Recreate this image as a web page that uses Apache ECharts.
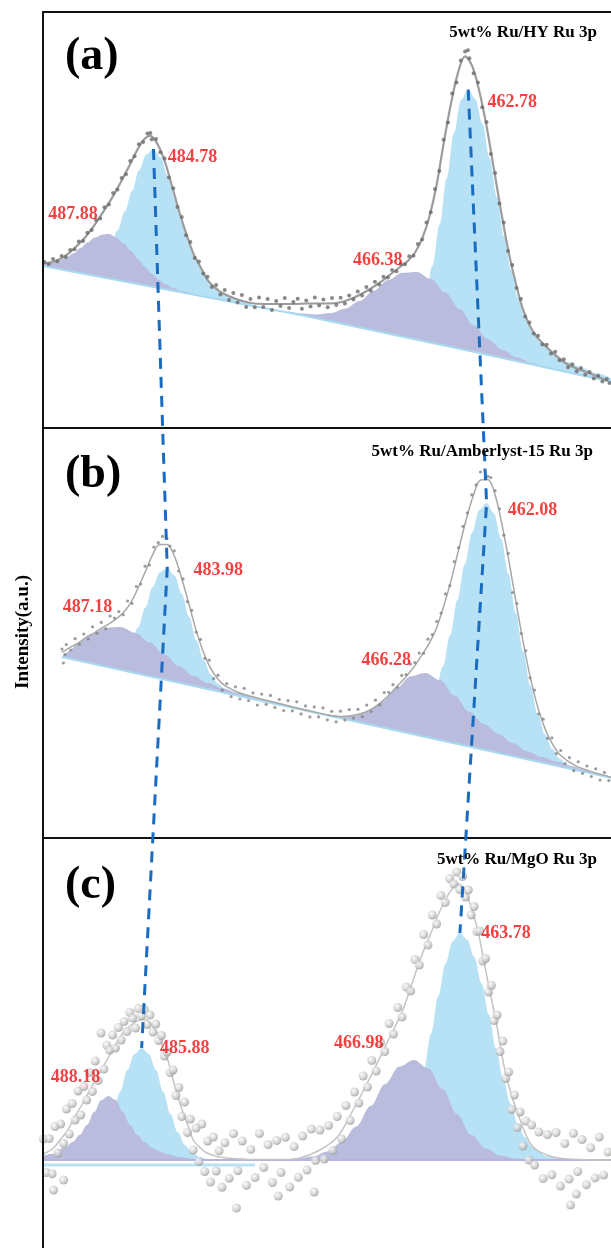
<!DOCTYPE html>
<html>

<head>
	<meta charset="utf-8" />
	<script src="https://cdn.jsdelivr.net/npm/echarts@6/dist/echarts.min.js"></script>
</head>

<title>
	Ru 3p XPS
</title>

<body style="margin: 0; background-color: #ffffff">
	<div id="main" style="width: 611px; height: 1248px;"></div>
</body>

<script type="text/javascript">
	// binding energy (eV) ranges shown in each panel
	var xRangeA = [452.8, 492.5];
	var xRangeB = [453.55, 492.5];
	var xRangeC = [453.29, 492.73];

	var titles = ['5wt% Ru/HY Ru 3p', '5wt% Ru/Amberlyst-15 Ru 3p', '5wt% Ru/MgO Ru 3p'];
	var tags = ['(a)', '(b)', '(c)'];

	// fitted peak centres: [Ru 3p1/2 oxide, Ru 3p1/2, Ru 3p3/2 oxide, Ru 3p3/2]
	var peaksA = [487.88, 484.78, 466.38, 462.78];
	var peaksB = [487.18, 483.98, 466.28, 462.08];
	var peaksC = [488.18, 485.88, 466.98, 463.78];

	// ---------- panel (a) 5wt% Ru/HY ----------
	var baseA = [[492.5, 1620], [474.5, 1130], [462, 750], [452.8, 462]];
	var blueLA = [[491.78, 1605], [490.78, 1598], [489.78, 1606], [489.28, 1622], [488.78, 1659], [488.28, 1725], [487.78, 1832], [487.28, 1978], [486.78, 2165], [486.28, 2371], [485.78, 2577], [485.28, 2734], [484.78, 2790], [484.28, 2707], [483.78, 2523], [483.28, 2289], [482.78, 2056], [482.28, 1842], [481.78, 1669], [481.28, 1535], [480.78, 1441], [480.28, 1378], [479.78, 1334], [478.78, 1272], [477.78, 1225]];
	var purpLA = [[492.5, 1645], [491.88, 1653], [491.38, 1672], [490.88, 1704], [490.38, 1747], [489.88, 1801], [489.38, 1855], [488.88, 1904], [488.38, 1933], [487.88, 1940], [487.38, 1906], [486.88, 1849], [486.38, 1774], [485.88, 1692], [485.38, 1611], [484.88, 1541], [484.38, 1481], [483.88, 1436], [483.38, 1400], [482.88, 1373], [481.88, 1335]];
	var blueRA = [[468.78, 969], [467.78, 968], [466.78, 1017], [466.28, 1122], [465.78, 1316], [465.28, 1621], [464.78, 2036], [464.28, 2500], [463.78, 2945], [463.28, 3279], [462.78, 3384], [462.28, 3289], [461.78, 3043], [461.28, 2698], [460.78, 2312], [460.28, 1917], [459.78, 1582], [459.28, 1296], [458.78, 1091], [458.28, 956], [457.78, 860], [456.78, 739], [455.78, 658], [454.78, 598], [453.78, 547], [452.78, 496]];
	var purpRA = [[475.38, 1167], [474.38, 1146], [473.38, 1136], [472.38, 1150], [471.38, 1193], [470.38, 1270], [469.38, 1373], [468.38, 1479], [467.38, 1552], [466.38, 1560], [465.38, 1490], [464.38, 1355], [463.38, 1189], [462.38, 1024], [461.38, 885], [460.38, 780], [459.38, 705], [458.38, 653], [457.38, 613], [456.38, 580], [455.38, 550], [454.38, 520], [453.38, 490], [452.78, 470]];
	var fitA = [[492.5, 1647], [492, 1655], [491.5, 1677], [491, 1717], [490.5, 1771], [490, 1840], [489.5, 1915], [489, 2008], [488.5, 2116], [488, 2227], [487.5, 2344], [487, 2475], [486.5, 2612], [486, 2756], [485.5, 2875], [485, 2921], [484.5, 2839], [484, 2671], [483.5, 2428], [483, 2175], [482.5, 1948], [482, 1749], [481.5, 1611], [481, 1482], [480.5, 1406], [480, 1353], [479, 1290], [478, 1250], [477, 1240], [476, 1240], [475, 1240], [474, 1245], [473, 1245], [472, 1250], [471, 1290], [470, 1360], [469, 1450], [468, 1560], [467.5, 1615], [467, 1670], [466.5, 1755], [466, 1894], [465.5, 2110], [465, 2423], [464.5, 2843], [464, 3232], [463.5, 3549], [463, 3716], [462.5, 3619], [462, 3365], [461.5, 3020], [461, 2604], [460.5, 2181], [460, 1791], [459.5, 1474], [459, 1206], [458.5, 1030], [458, 912], [457, 769], [456, 650], [455, 585], [454, 530], [453, 470]];
	var ptsA = [[492.4, 1660], [492.1, 1640], [491.8, 1690], [491.5, 1667], [491.2, 1720], [490.9, 1711], [490.6, 1780], [490.3, 1788], [490.0, 1865], [489.7, 1870], [489.4, 1953], [489.1, 1980], [488.8, 2080], [488.5, 2096], [488.2, 2207], [487.9, 2235], [487.6, 2350], [487.3, 2386], [487.0, 2500], [486.7, 2537], [486.4, 2671], [486.1, 2717], [485.8, 2838], [485.5, 2860], [485.2, 2945], [485.0, 2951], [484.9, 2885], [484.6, 2890], [484.3, 2757], [484.0, 2696], [483.7, 2505], [483.4, 2397], [483.1, 2211], [482.8, 2109], [482.5, 1928], [482.2, 1859], [481.9, 1701], [481.6, 1664], [481.3, 1545], [481.0, 1512], [480.7, 1411], [480.4, 1430], [480.1, 1334], [479.8, 1380], [479.5, 1280], [479.2, 1350], [478.9, 1255], [478.6, 1330], [478.3, 1210], [478.0, 1290], [477.7, 1207], [477.4, 1304], [477.1, 1211], [476.8, 1290], [476.5, 1180], [476.2, 1270], [475.9, 1220], [475.6, 1300], [475.3, 1200], [475.0, 1260], [474.7, 1292], [474.4, 1193], [474.1, 1275], [473.8, 1215], [473.5, 1305], [473.2, 1225], [472.9, 1285], [472.6, 1207], [472.3, 1299], [472.0, 1230], [471.7, 1302], [471.4, 1244], [471.1, 1326], [470.8, 1284], [470.5, 1365], [470.2, 1326], [469.9, 1409], [469.6, 1376], [469.3, 1463], [469.0, 1435], [468.7, 1513], [468.4, 1506], [468.1, 1579], [467.8, 1567], [467.5, 1640], [467.2, 1638], [466.9, 1717], [466.6, 1723], [466.3, 1840], [466.0, 1884], [465.7, 2054], [465.4, 2158], [465.1, 2390], [464.8, 2571], [464.5, 2883], [464.2, 3056], [463.9, 3345], [463.6, 3456], [463.3, 3676], [463.0, 3766], [462.8, 3777], [462.7, 3698], [462.4, 3548], [462.1, 3456], [461.8, 3207], [461.5, 3060], [461.2, 2740], [460.9, 2550], [460.6, 2246], [460.3, 2055], [460.0, 1771], [459.7, 1631], [459.4, 1400], [459.1, 1290], [458.8, 1116], [458.5, 1055], [458.2, 944], [457.9, 923], [457.6, 835], [457.3, 832], [457.0, 744], [456.7, 763], [456.4, 678], [456.1, 687], [455.8, 607], [455.5, 638], [455.2, 568], [454.9, 600], [454.6, 533], [454.3, 561], [454.0, 495], [453.7, 522], [453.4, 464], [453.1, 491], [452.9, 450]];

	// ---------- panel (b) 5wt% Ru/Amberlyst-15 ----------
	var baseB = [[491.2, 1810], [453.55, 602]];
	var blueLB = [[488.98, 1743], [488.48, 1735], [487.98, 1739], [487.48, 1764], [486.98, 1826], [486.48, 1938], [485.98, 2105], [485.48, 2306], [484.98, 2507], [484.48, 2657], [483.98, 2699], [483.48, 2625], [482.98, 2443], [482.48, 2210], [481.98, 1976], [481.48, 1777], [480.98, 1633], [480.48, 1539], [479.98, 1482], [479.48, 1446], [478.98, 1422]];
	var purpLB = [[491.2, 1812], [490.68, 1870], [490.18, 1940], [489.18, 2035], [488.18, 2103], [487.18, 2110], [486.18, 2053], [485.18, 1955], [484.18, 1836], [483.18, 1719], [482.18, 1621], [481.18, 1549], [480.18, 1497], [479.18, 1453], [477.18, 1375], [475.18, 1304], [473.18, 1237], [471.18, 1170]];
	var blueRB = [[469.08, 1104], [468.08, 1084], [467.58, 1090], [467.08, 1116], [466.58, 1180], [466.08, 1294], [465.58, 1468], [465.08, 1715], [464.58, 2028], [464.08, 2381], [463.58, 2735], [463.08, 3053], [462.58, 3280], [462.08, 3350], [461.58, 3248], [461.08, 2989], [460.58, 2639], [460.08, 2253], [459.58, 1868], [459.08, 1523], [458.58, 1243], [458.08, 1037], [457.58, 891], [457.08, 795], [456.58, 737], [456.08, 699], [455.08, 654]];
	var purpRB = [[473.28, 1239], [472.28, 1218], [471.28, 1219], [470.28, 1260], [469.28, 1357], [468.28, 1497], [467.28, 1618], [466.28, 1650], [465.28, 1579], [464.28, 1426], [463.28, 1264], [462.28, 1142], [461.28, 1040], [460.28, 948], [459.28, 866], [458.28, 809], [457.28, 762], [456.28, 720], [455.28, 678], [454.28, 636], [453.28, 598]];
	var fitB = [[491.2, 1860], [491, 1874], [490.5, 1918], [490, 1957], [489.5, 2012], [489, 2049], [488.5, 2096], [488, 2139], [487.5, 2189], [487, 2252], [486.5, 2348], [486, 2494], [485.5, 2658], [485, 2827], [484.5, 2936], [484, 2936], [483.5, 2822], [483, 2603], [482.5, 2342], [482, 2079], [481.5, 1858], [481, 1696], [480.5, 1588], [480, 1522], [479, 1450], [478, 1407], [477, 1370], [476, 1334], [475, 1298], [474, 1264], [473, 1232], [472, 1216], [471, 1232], [470, 1285], [469, 1396], [468, 1549], [467.5, 1632], [467, 1724], [466.5, 1833], [466, 1952], [465.5, 2106], [465, 2330], [464.5, 2584], [464, 2883], [463.5, 3172], [463, 3421], [462.5, 3580], [462, 3586], [461.5, 3433], [461, 3115], [460.5, 2729], [460, 2305], [459.5, 1904], [459, 1551], [458.5, 1272], [458, 1066], [457.5, 923], [457, 825], [456, 723], [455, 669], [454, 626], [453.5, 606]];
	var ptsB = [[491.2, 1890], [491.1, 1750], [491.0, 1834], [490.9, 1935], [490.6, 1879], [490.3, 1993], [490.0, 1937], [489.7, 2040], [489.4, 1990], [489.1, 2112], [488.8, 2048], [488.5, 2156], [488.2, 2092], [487.9, 2219], [487.6, 2199], [487.3, 2264], [487.0, 2232], [486.7, 2370], [486.4, 2347], [486.1, 2515], [485.8, 2540], [485.5, 2718], [485.2, 2730], [484.9, 2909], [484.6, 2954], [484.3, 3016], [484.0, 2996], [483.8, 2920], [483.5, 2872], [483.2, 2670], [482.9, 2591], [482.6, 2364], [482.3, 2277], [482.0, 2059], [481.7, 1986], [481.4, 1796], [481.1, 1778], [480.8, 1593], [480.5, 1628], [480.2, 1478], [479.9, 1545], [479.6, 1413], [479.3, 1512], [479.0, 1390], [478.7, 1497], [478.4, 1374], [478.1, 1451], [477.8, 1330], [477.5, 1439], [477.2, 1337], [476.9, 1426], [476.6, 1306], [476.3, 1385], [476.0, 1274], [475.7, 1373], [475.4, 1272], [475.1, 1362], [474.8, 1241], [474.5, 1321], [474.2, 1211], [473.9, 1311], [473.6, 1211], [473.3, 1302], [473.0, 1182], [472.7, 1267], [472.4, 1162], [472.1, 1268], [471.8, 1179], [471.5, 1284], [471.2, 1199], [470.9, 1287], [470.6, 1213], [470.3, 1329], [470.0, 1265], [469.7, 1378], [469.4, 1331], [469.1, 1455], [468.8, 1457], [468.5, 1533], [468.2, 1508], [467.9, 1626], [467.6, 1635], [467.3, 1739], [467.0, 1754], [466.7, 1849], [466.4, 1847], [466.1, 1988], [465.8, 2034], [465.5, 2166], [465.2, 2250], [464.9, 2441], [464.6, 2523], [464.3, 2763], [464.0, 2903], [463.7, 3117], [463.4, 3252], [463.1, 3431], [462.8, 3531], [462.5, 3660], [462.2, 3684], [462.0, 3616], [461.8, 3605], [461.5, 3473], [461.2, 3292], [460.9, 3028], [460.6, 2846], [460.3, 2455], [460.0, 2345], [459.7, 2044], [459.4, 1874], [459.1, 1602], [458.8, 1479], [458.5, 1242], [458.2, 1188], [457.9, 997], [457.6, 1002], [457.3, 844], [457.0, 875], [456.7, 745], [456.4, 804], [456.1, 673], [455.8, 762], [455.5, 646], [455.2, 720], [454.9, 615], [454.6, 692], [454.3, 579], [454.0, 656], [453.7, 574]];

	// ---------- panel (c) 5wt% Ru/MgO ----------
	var baseC = [[492.73, 880], [453.29, 880]];
	var baseC2 = [[492.73, 830], [478, 830]];
	var blueLC = [[490.88, 884], [490.38, 892], [489.88, 912], [489.38, 953], [488.88, 1031], [488.38, 1159], [487.88, 1340], [487.38, 1560], [486.88, 1777], [486.38, 1940], [485.88, 2000], [485.38, 1940], [484.88, 1777], [484.38, 1560], [483.88, 1340], [483.38, 1159], [482.88, 1031], [482.38, 953], [481.88, 912], [481.38, 892], [480.88, 884]];
	var purpLC = [[492.73, 920], [492.18, 940], [491.18, 1005], [490.68, 1060], [490.18, 1130], [489.68, 1230], [489.18, 1360], [488.68, 1480], [488.18, 1520], [487.68, 1480], [487.18, 1360], [486.68, 1230], [486.18, 1130], [485.68, 1060], [485.18, 1005], [484.68, 970], [484.18, 940], [483.18, 908], [482.18, 890], [481.18, 883]];
	var blueRC = [[469.78, 888], [468.78, 928], [468.28, 980], [467.78, 1077], [467.28, 1237], [466.78, 1473], [466.28, 1783], [465.78, 2147], [465.28, 2521], [464.78, 2846], [464.28, 3068], [463.78, 3150], [463.28, 3086], [462.78, 2909], [462.28, 2646], [461.78, 2338], [461.28, 1997], [460.78, 1698], [460.28, 1446], [459.78, 1250], [459.28, 1109], [458.78, 1014], [457.78, 918], [456.78, 889]];
	var purpRC = [[474.98, 892], [473.98, 915], [472.98, 965], [471.98, 1060], [470.98, 1214], [469.98, 1419], [468.98, 1640], [467.98, 1814], [466.98, 1880], [465.98, 1797], [464.98, 1587], [463.98, 1338], [462.98, 1129], [461.98, 994], [460.98, 924], [459.98, 894], [458.98, 884]];
	var fitC = [[492.7, 940], [492, 1000], [491.55, 1080], [491, 1180], [490.65, 1280], [490, 1440], [489.47, 1580], [488.8, 1750], [488.29, 1880], [487.7, 2030], [487.18, 2150], [486.5, 2240], [486, 2280], [485.6, 2285], [485.3, 2250], [484.8, 2150], [484.4, 2010], [484, 1850], [483.7, 1680], [483.35, 1510], [483, 1350], [482.6, 1200], [482.3, 1080], [481.8, 1000], [481.35, 950], [480.6, 915], [480, 900], [478, 885], [476, 885], [474.9, 900], [473.5, 980], [472.3, 1110], [471.2, 1380], [470, 1710], [468.85, 2050], [467.75, 2380], [466.55, 2880], [465.85, 3130], [464.8, 3480], [463.9, 3640], [463.35, 3550], [462.6, 3210], [461.9, 2710], [461.2, 2210], [460.55, 1710], [459.6, 1280], [458.7, 1010], [457.3, 910], [455.5, 885], [453.3, 880]];
	var ptsC = [[492.7, 1090], [492.5, 755], [492.3, 1095], [492.1, 742], [492.0, 580], [491.9, 1215], [491.7, 950], [491.5, 1240], [491.3, 1045], [491.3, 680], [491.1, 1390], [490.9, 1140], [490.7, 1445], [490.5, 1280], [490.3, 1570], [490.1, 1330], [489.9, 1615], [489.7, 1480], [489.5, 1755], [489.3, 1565], [489.1, 1870], [488.9, 1675], [488.7, 2150], [488.5, 1790], [488.3, 2028], [488.1, 1980], [487.9, 2130], [487.7, 2000], [487.5, 2205], [487.3, 2080], [487.1, 2265], [486.9, 2165], [486.7, 2355], [486.5, 2300], [486.3, 2200], [486.1, 2395], [485.9, 2322], [485.7, 2385], [485.5, 2235], [485.3, 2330], [485.1, 2160], [484.9, 2240], [484.7, 2075], [484.5, 2125], [484.3, 1920], [484.1, 1960], [483.9, 1755], [483.7, 1780], [483.5, 1525], [483.3, 1605], [483.1, 1315], [482.9, 1460], [482.7, 1155], [482.5, 1290], [482.3, 980], [482.1, 1200], [481.9, 865], [481.7, 1240], [481.5, 765], [481.3, 1070], [481.1, 660], [480.9, 1110], [480.7, 770], [480.5, 972], [480.3, 607], [480.1, 1052], [479.8, 698], [479.5, 1145], [479.3, 400], [479.2, 773], [478.9, 1070], [478.6, 628], [478.3, 986], [478.0, 705], [477.7, 1145], [477.4, 805], [477.1, 1035], [476.8, 655], [476.5, 1075], [476.4, 520], [476.2, 755], [475.9, 1107], [475.6, 610], [475.3, 1014], [475.0, 708], [474.7, 1120], [474.4, 780], [474.1, 1190], [473.9, 560], [473.8, 875], [473.5, 1180], [473.2, 890], [472.9, 1225], [472.6, 975], [472.3, 1315], [472.0, 1090], [471.7, 1425], [471.4, 1275], [471.1, 1560], [470.8, 1450], [470.5, 1720], [470.2, 1610], [469.9, 1875], [469.6, 1770], [469.3, 2055], [469.0, 1965], [468.7, 2245], [468.4, 2140], [468.1, 2405], [467.8, 2310], [467.5, 2610], [467.2, 2570], [466.9, 2885], [466.6, 2830], [466.3, 3135], [466.0, 3030], [465.7, 3330], [465.4, 3240], [465.1, 3525], [464.8, 3455], [464.5, 3695], [464.2, 3640], [464.0, 3760], [463.8, 3585], [463.6, 3715], [463.4, 3510], [463.2, 3580], [463.0, 3330], [462.8, 3415], [462.6, 3165], [462.4, 3170], [462.2, 2870], [462.0, 2895], [461.8, 2560], [461.6, 2625], [461.4, 2275], [461.2, 2330], [461.0, 1965], [460.8, 2070], [460.6, 1695], [460.4, 1760], [460.2, 1385], [460.0, 1530], [459.8, 1205], [459.6, 1360], [459.4, 1020], [459.2, 1270], [459.0, 880], [458.8, 1230], [458.6, 830], [458.3, 1160], [458.0, 695], [457.7, 1135], [457.4, 732], [457.1, 1155], [456.8, 620], [456.5, 1045], [456.2, 690], [456.1, 430], [455.9, 1147], [455.7, 540], [455.6, 765], [455.3, 1084], [455.0, 633], [454.7, 1002], [454.4, 701], [454.1, 1110], [453.8, 730], [453.5, 960]];

	var BLUE = '#b7e1f5';
	var PURPLE = '#babcde';

	var panels = [
		{ x: xRangeA, yMax: 4160, top: 12, height: 416, base: baseA, blue: [blueLA, blueRA], purp: [purpLA, purpRA], fit: fitA, pts: ptsA, peaks: peaksA,
			offsets: [[-36, -20], [39, 8], [-39, -12], [44, 13]] },
		{ x: xRangeB, yMax: 4100, top: 428, height: 410, base: baseB, blue: [blueLB, blueRB], purp: [purpLB, purpRB], fit: fitB, pts: ptsB, peaks: peaksB,
			offsets: [[-33, -20], [51, 2], [-39, -13], [46, 7]] },
		{ x: xRangeC, yMax: 4100, top: 838, height: 410, base: baseC, blue: [blueLC, blueRC], purp: [purpLC, purpRC], fit: fitC, pts: ptsC, peaks: peaksC,
			offsets: [[-33, -19], [43, 0], [-55, -17], [46, 0]] }
	];

	// looks up the stored intensity of a component at a given binding energy
	function valueAt(arr, be) {
		for (var i = 0; i < arr.length; i++) {
			if (Math.abs(arr[i][0] - be) < 1e-6) return arr[i][1];
		}
		return null;
	}

	function area(i, data, color, z) {
		return {
			type: 'line', xAxisIndex: i, yAxisIndex: i, data: data, smooth: 0.35, smoothMonotone: 'x',
			showSymbol: false, silent: true, z: z, lineStyle: { width: 0 },
			areaStyle: { color: color, opacity: 1, origin: 'start' }
		};
	}

	var grids = [], xAxes = [], yAxes = [], series = [];
	panels.forEach(function (p, i) {
		grids.push({ left: 43, right: 0, top: p.top, height: p.height });
		xAxes.push({
			gridIndex: i, type: 'value', min: p.x[0], max: p.x[1], inverse: true, position: 'top', z: 20,
			axisLine: { show: true, onZero: false, lineStyle: { color: '#111', width: 2 } },
			axisTick: { show: false }, axisLabel: { show: false }, splitLine: { show: false }
		});
		yAxes.push({
			gridIndex: i, type: 'value', min: 0, max: p.yMax, z: 20,
			axisLine: { show: true, onZero: false, lineStyle: { color: '#111', width: 2 } },
			axisTick: { show: false }, axisLabel: { show: false }, splitLine: { show: false }
		});
		series.push(area(i, p.blue[0], BLUE, 2));
		series.push(area(i, p.blue[1], BLUE, 2));
		series.push(area(i, p.purp[0], PURPLE, 3));
		series.push(area(i, p.purp[1], PURPLE, 3));
		// white fill under the background line
		series.push({
			type: 'line', xAxisIndex: i, yAxisIndex: i, data: p.base, showSymbol: false, silent: true, z: 4,
			lineStyle: { width: 0 }, areaStyle: { color: '#ffffff', opacity: 1, origin: 'start' }
		});
		series.push({
			type: 'line', xAxisIndex: i, yAxisIndex: i, data: p.base, showSymbol: false, silent: true, z: 5,
			lineStyle: { color: i === 2 ? '#b3b5df' : '#a9d9f1', width: 2 }
		});
		if (i === 2) {
			series.push({
				type: 'line', xAxisIndex: i, yAxisIndex: i, data: baseC2, showSymbol: false, silent: true, z: 5,
				lineStyle: { color: '#b9e2f6', width: 3 }
			});
		}
		series.push({
			type: 'line', xAxisIndex: i, yAxisIndex: i, data: p.fit, smooth: 0.35, showSymbol: false, silent: true, z: 6,
			lineStyle: { color: i === 2 ? '#c4c4c4' : (i === 0 ? '#9c9c9c' : '#a8a8a8'), width: i === 0 ? 2.2 : 1.5 }
		});
		series.push({
			type: 'scatter', xAxisIndex: i, yAxisIndex: i, data: p.pts, silent: true, z: 7,
			symbolSize: i === 2 ? 9 : (i === 1 ? 3.2 : 4),
			itemStyle: i === 2 ? {
				color: { type: 'radial', x: 0.38, y: 0.35, r: 0.65, colorStops: [
					{ offset: 0, color: '#fafafa' }, { offset: 0.6, color: '#cdcdcd' }, { offset: 1, color: '#9d9d9d' }] }
			} : { color: i === 1 ? '#858585' : '#6c6c6c' }
		});
		// peak position labels, anchored on each component's apex
		var comps = [p.purp[0], p.blue[0], p.purp[1], p.blue[1]];
		series.push({
			type: 'scatter', xAxisIndex: i, yAxisIndex: i, symbolSize: 0, silent: true, z: 10,
			label: { show: true, position: 'inside', color: '#f01010', fontFamily: 'Liberation Serif', fontWeight: 'bold', fontSize: 18 },
			data: p.peaks.map(function (be, k) {
				return { value: [be, valueAt(comps[k], be)], label: { formatter: be.toFixed(2), offset: p.offsets[k] } };
			})
		});
	});

	var myChart = echarts.init(document.getElementById('main'));
	myChart.setOption({
		backgroundColor: '#ffffff',
		animation: false,
		grid: grids,
		xAxis: xAxes,
		yAxis: yAxes,
		series: series
	});

	// dashed guide lines joining the Ru 3p1/2 and Ru 3p3/2 apexes across panels
	function apexLine(k) {
		return panels.map(function (p, i) {
			var comp = k === 1 ? p.blue[0] : p.blue[1];
			var be = p.peaks[k];
			return myChart.convertToPixel({ xAxisIndex: i, yAxisIndex: i }, [be, valueAt(comp, be)]);
		});
	}

	var serif = '"Liberation Serif", "Times New Roman", serif';
	var graphic = [];
	[1, 3].forEach(function (k) {
		graphic.push({
			type: 'polyline', z: 100, silent: true,
			shape: { points: apexLine(k) },
			style: { stroke: '#1a6cc0', lineWidth: 3, lineDash: [11, 8], fill: null }
		});
	});
	var tagY = [57, 475, 886];
	var titleY = [33, 452, 860];
	var titleX = [597, 593, 597];
	for (var i = 0; i < 3; i++) {
		graphic.push({ type: 'text', x: 65, y: tagY[i], z: 100,
			style: { text: tags[i], font: 'bold 46px ' + serif, fill: '#000', textVerticalAlign: 'middle' } });
		graphic.push({ type: 'text', x: titleX[i], y: titleY[i], z: 100,
			style: { text: titles[i], font: 'bold 17px ' + serif, fill: '#000', textAlign: 'right', textVerticalAlign: 'middle' } });
	}
	graphic.push({ type: 'text', x: 23, y: 632, rotation: Math.PI / 2, z: 100,
		style: { text: 'Intensity(a.u.)', font: 'bold 19px ' + serif, fill: '#000', textAlign: 'center', textVerticalAlign: 'middle' } });

	myChart.setOption({ graphic: graphic });
</script>

</html>
